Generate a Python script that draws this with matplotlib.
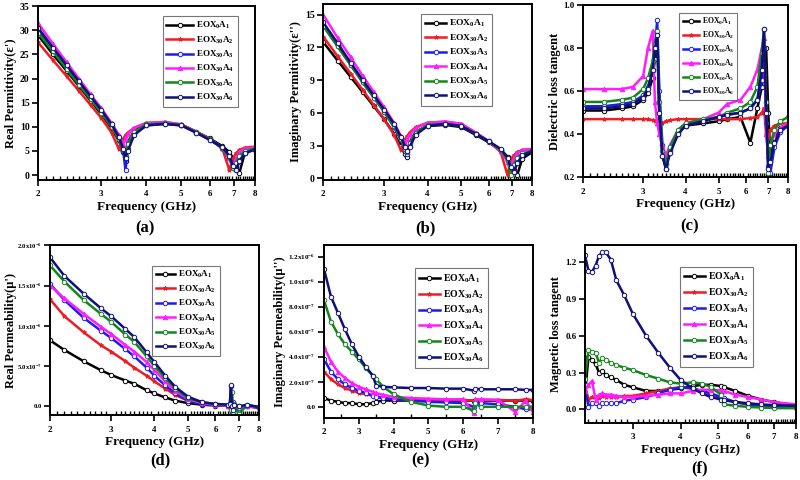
import numpy as np
import matplotlib
matplotlib.use("Agg")
import matplotlib.pyplot as plt
from matplotlib.ticker import NullFormatter

plt.rcParams['font.family'] = ['Liberation Serif', 'DejaVu Serif']
plt.rcParams['font.weight'] = 'bold'
plt.rcParams['mathtext.fontset'] = 'custom'
plt.rcParams['mathtext.rm'] = 'Liberation Serif:bold'
plt.rcParams['mathtext.bf'] = 'Liberation Serif:bold'
plt.rcParams['mathtext.default'] = 'bf'

labels = ["EOX$_0$A$_1$", "EOX$_{30}$A$_2$", "EOX$_{30}$A$_3$",
          "EOX$_{30}$A$_4$", "EOX$_{30}$A$_5$", "EOX$_{30}$A$_6$"]
colors = ['#000000', '#ee1c24', '#1c1cf0', '#ff1cff', '#12861a', '#10107a']
markers = ['o', '*', 'o', '^', 'o', 'o']

# ---- (a) real permittivity / (b) imaginary permittivity ----
freq_ab = [2.0, 2.2, 2.4, 2.6, 2.8, 3.0, 3.2, 3.35, 3.45, 3.5, 3.55, 3.7, 4.0,
           4.5, 5.0, 5.5, 6.0, 6.5, 6.8, 6.95, 7.1, 7.25, 7.5, 8.0]
eps_re_1 = [29.0, 25.0, 21.6, 18.4, 15.4, 12.6, 9.7, 7.2, 4.8, 3.0, 6.8, 9.2, 10.5, 10.7, 10.4, 9.0, 7.6, 6.0, 4.8, 3.6, 1.8, 0.5, 4.5, 5.5]
eps_re_2 = [27.5, 23.8, 20.5, 17.4, 14.5, 11.8, 8.8, 5.5, 7.5, 8.3, 8.8, 9.8, 10.8, 11.0, 10.5, 9.0, 7.5, 5.5, 1.0, 3.5, 4.5, 5.2, 5.7, 5.9]
eps_re_3 = [30.0, 26.0, 22.4, 19.0, 16.0, 13.2, 10.2, 7.8, 5.0, 1.0, 5.5, 8.5, 10.3, 10.6, 10.3, 8.8, 7.3, 5.6, 3.5, 1.5, 1.0, 3.0, 4.5, 5.5]
eps_re_4 = [31.5, 27.2, 23.4, 19.9, 16.7, 13.8, 10.8, 8.4, 6.5, 7.5, 8.5, 9.8, 10.8, 11.0, 10.5, 9.0, 7.5, 5.7, 3.5, 2.0, 3.5, 4.8, 5.5, 5.8]
eps_re_5 = [29.5, 25.6, 22.0, 18.7, 15.7, 12.9, 10.0, 7.5, 5.2, 4.0, 6.5, 9.0, 10.5, 10.7, 10.4, 8.9, 7.4, 5.7, 3.8, 1.5, 2.5, 4.0, 5.0, 5.5]
eps_re_6 = [30.5, 26.4, 22.8, 19.4, 16.3, 13.5, 10.5, 8.0, 5.5, 3.5, 5.0, 8.3, 10.3, 10.6, 10.3, 8.8, 7.3, 5.8, 4.0, 2.0, 1.0, 3.0, 4.5, 5.3]

eps_im_1 = [12.5, 10.8, 9.3, 7.9, 6.6, 5.4, 4.1, 3.0, 2.2, 2.0, 3.3, 4.3, 4.8, 4.9, 4.7, 4.0, 3.3, 2.6, 2.0, 1.5, 0.8, 0.3, 1.8, 2.4]
eps_im_2 = [13.0, 11.2, 9.6, 8.1, 6.7, 5.4, 4.0, 2.6, 3.6, 3.9, 4.2, 4.7, 5.1, 5.2, 5.0, 4.2, 3.4, 2.4, 0.3, 1.8, 2.1, 2.4, 2.6, 2.7]
eps_im_3 = [14.0, 12.1, 10.4, 8.8, 7.4, 6.1, 4.7, 3.5, 2.5, 2.2, 3.0, 4.1, 4.9, 5.0, 4.8, 4.1, 3.4, 2.6, 1.6, 0.8, 0.6, 1.5, 2.1, 2.5]
eps_im_4 = [15.0, 12.9, 11.1, 9.4, 7.9, 6.5, 5.1, 3.9, 3.2, 3.6, 4.0, 4.6, 5.1, 5.2, 5.0, 4.2, 3.4, 2.5, 1.5, 1.2, 1.8, 2.3, 2.6, 2.7]
eps_im_5 = [14.0, 12.1, 10.4, 8.8, 7.4, 6.1, 4.8, 3.6, 2.7, 2.4, 3.2, 4.2, 4.9, 5.0, 4.8, 4.1, 3.4, 2.6, 1.7, 0.3, 1.2, 1.9, 2.3, 2.5]
eps_im_6 = [14.3, 12.4, 10.6, 9.0, 7.6, 6.3, 5.0, 3.8, 2.9, 2.5, 2.9, 4.0, 4.8, 5.0, 4.8, 4.1, 3.4, 2.7, 1.9, 1.0, 0.6, 1.4, 2.1, 2.5]

# ---- (c) dielectric loss tangent ----
freq_c = [2.0, 2.3, 2.6, 2.8, 3.0, 3.1, 3.2, 3.25, 3.3, 3.35, 3.42, 3.5, 3.6, 3.8, 4.0,
          4.5, 5.0, 5.3, 5.8, 6.2, 6.5, 6.7, 6.8, 6.9, 7.0, 7.1, 7.3, 7.6, 8.0]
tand_1 = [0.51, 0.51, 0.52, 0.53, 0.56, 0.59, 0.66, 0.75, 0.86, 0.45, 0.30, 0.24, 0.33, 0.41, 0.44, 0.45, 0.46, 0.47, 0.48, 0.36, 0.52, 0.62, 0.72, 0.80, 0.50, 0.30, 0.38, 0.43, 0.45]
tand_2 = [0.47, 0.47, 0.47, 0.47, 0.47, 0.47, 0.465, 0.46, 0.46, 0.455, 0.45, 0.46, 0.465, 0.47, 0.47, 0.47, 0.47, 0.47, 0.47, 0.475, 0.48, 0.50, 0.52, 0.40, 0.38, 0.42, 0.44, 0.45, 0.45]
tand_3 = [0.53, 0.53, 0.54, 0.55, 0.58, 0.62, 0.70, 0.80, 0.93, 0.60, 0.35, 0.26, 0.32, 0.40, 0.44, 0.46, 0.48, 0.49, 0.50, 0.52, 0.56, 0.65, 0.80, 0.45, 0.25, 0.22, 0.34, 0.41, 0.44]
tand_4 = [0.61, 0.61, 0.61, 0.62, 0.67, 0.80, 0.88, 0.55, 0.45, 0.40, 0.35, 0.30, 0.35, 0.42, 0.45, 0.47, 0.50, 0.54, 0.56, 0.62, 0.70, 0.80, 0.85, 0.40, 0.30, 0.35, 0.40, 0.43, 0.45]
tand_5 = [0.55, 0.55, 0.56, 0.57, 0.61, 0.66, 0.74, 0.82, 0.88, 0.55, 0.32, 0.26, 0.34, 0.42, 0.45, 0.47, 0.48, 0.50, 0.52, 0.55, 0.62, 0.78, 0.89, 0.55, 0.22, 0.35, 0.42, 0.46, 0.48]
tand_6 = [0.52, 0.52, 0.53, 0.54, 0.57, 0.61, 0.70, 0.80, 0.86, 0.50, 0.30, 0.24, 0.31, 0.40, 0.44, 0.46, 0.48, 0.49, 0.50, 0.52, 0.56, 0.70, 0.89, 0.50, 0.24, 0.27, 0.36, 0.42, 0.44]

# ---- (d) real permeability (x1e-6) ----
freq_d = [2.0, 2.2, 2.5, 2.8, 3.0, 3.3, 3.5, 3.8, 4.0, 4.3, 4.6, 5.0, 5.5, 6.0,
          6.5, 6.6, 6.65, 6.7, 6.75, 6.8, 7.0, 7.4, 8.0]
mu_re_1 = [0.82, 0.70, 0.56, 0.45, 0.39, 0.32, 0.28, 0.20, 0.16, 0.11, 0.07, 0.04, 0.02, 0.01, 0.01, 0.01, 0.0, 0.01, 0.0, 0.0, 0.0, 0.0, -0.01]
mu_re_2 = [1.33, 1.12, 0.92, 0.76, 0.68, 0.56, 0.48, 0.38, 0.31, 0.22, 0.14, 0.07, 0.03, 0.02, 0.01, 0.01, 0.02, 0.0, 0.01, 0.0, 0.0, 0.0, -0.01]
mu_re_3 = [1.52, 1.32, 1.10, 0.94, 0.85, 0.71, 0.62, 0.48, 0.38, 0.26, 0.16, 0.07, 0.03, 0.02, 0.01, 0.02, 0.25, -0.10, 0.05, 0.0, -0.02, 0.0, -0.02]
mu_re_4 = [1.50, 1.34, 1.15, 0.99, 0.90, 0.76, 0.68, 0.55, 0.45, 0.31, 0.19, 0.09, 0.04, 0.02, 0.01, 0.01, 0.02, 0.0, 0.01, 0.0, 0.0, 0.0, -0.01]
mu_re_5 = [1.75, 1.55, 1.32, 1.15, 1.05, 0.89, 0.80, 0.62, 0.50, 0.35, 0.22, 0.10, 0.05, 0.03, 0.02, 0.02, -0.05, 0.18, -0.10, 0.03, -0.10, 0.02, -0.01]
mu_re_6 = [1.85, 1.62, 1.40, 1.22, 1.12, 0.96, 0.86, 0.67, 0.55, 0.38, 0.24, 0.12, 0.05, 0.03, 0.02, 0.03, 0.26, 0.0, -0.05, 0.02, 0.0, 0.02, -0.01]

# ---- (e) imaginary permeability (x1e-6) ----
freq_e = [2.0, 2.2, 2.4, 2.6, 2.8, 3.0, 3.2, 3.4, 3.5, 3.7, 4.0, 4.5, 5.0, 5.5,
          6.0, 6.3, 6.35, 6.5, 7.0, 7.5, 7.8, 8.0]
mu_im_1 = [0.07, 0.05, 0.04, 0.03, 0.03, 0.02, 0.02, 0.03, 0.04, 0.05, 0.05, 0.05, 0.05, 0.05, 0.05, 0.05, 0.05, 0.05, 0.05, 0.05, 0.05, 0.05]
mu_im_2 = [0.28, 0.22, 0.18, 0.15, 0.13, 0.11, 0.10, 0.09, 0.08, 0.07, 0.06, 0.06, 0.055, 0.055, 0.055, 0.05, 0.05, 0.055, 0.055, 0.05, 0.06, 0.055]
mu_im_3 = [0.38, 0.28, 0.22, 0.18, 0.15, 0.13, 0.11, 0.09, 0.08, 0.07, 0.06, 0.05, 0.04, 0.035, 0.03, 0.0, 0.03, 0.03, 0.02, 0.0, -0.02, -0.02]
mu_im_4 = [0.48, 0.36, 0.28, 0.23, 0.19, 0.16, 0.14, 0.12, 0.11, 0.095, 0.08, 0.07, 0.065, 0.06, 0.06, -0.05, 0.06, 0.06, 0.055, -0.04, 0.05, -0.04]
mu_im_5 = [0.85, 0.68, 0.58, 0.50, 0.44, 0.38, 0.31, 0.25, 0.22, 0.16, 0.10, 0.04, 0.01, 0.0, 0.0, -0.03, 0.03, 0.0, 0.0, 0.0, 0.0, 0.0]
mu_im_6 = [1.10, 0.88, 0.75, 0.62, 0.50, 0.40, 0.32, 0.25, 0.17, 0.16, 0.155, 0.15, 0.15, 0.145, 0.145, 0.13, 0.145, 0.14, 0.14, 0.14, 0.135, 0.135]

# ---- (f) magnetic loss tangent ----
freq_f = [2.25, 2.3, 2.35, 2.4, 2.45, 2.5, 2.55, 2.63, 2.72, 2.85, 3.0, 3.25, 3.5,
          3.75, 4.0, 4.3, 4.55, 4.8, 5.1, 5.2, 5.55, 6.0, 6.5, 7.0, 8.0]
tanm_1 = [0.10, 0.43, 0.40, 0.37, 0.30, 0.31, 0.28, 0.26, 0.24, 0.20, 0.18, 0.15, 0.15, 0.16, 0.17, 0.19, 0.20, 0.20, 0.19, 0.18, 0.15, 0.11, 0.08, 0.06, 0.03]
tanm_2 = [0.20, 0.08, 0.10, 0.10, 0.09, 0.11, 0.10, 0.10, 0.10, 0.11, 0.11, 0.13, 0.15, 0.17, 0.18, 0.17, 0.15, 0.12, 0.09, 0.08, 0.06, 0.04, 0.03, 0.025, 0.02]
tanm_3 = [0.20, 0.02, 0.05, 0.05, 0.03, 0.05, 0.05, 0.05, 0.05, 0.07, 0.08, 0.10, 0.13, 0.16, 0.18, 0.17, 0.15, 0.13, 0.10, 0.09, 0.06, 0.04, 0.03, 0.025, 0.02]
tanm_4 = [0.15, 0.20, 0.23, 0.08, 0.12, 0.13, 0.12, 0.12, 0.11, 0.10, 0.10, 0.11, 0.12, 0.13, 0.13, 0.15, 0.16, 0.16, 0.155, 0.15, 0.12, 0.10, 0.08, 0.06, 0.04]
tanm_5 = [0.25, 0.48, 0.47, 0.46, 0.38, 0.42, 0.40, 0.38, 0.36, 0.34, 0.32, 0.28, 0.25, 0.22, 0.21, 0.22, 0.21, 0.18, 0.12, 0.04, 0.03, 0.02, 0.015, 0.01, 0.01]
tanm_6 = [1.26, 1.13, 1.12, 1.17, 1.25, 1.28, 1.28, 1.22, 1.05, 0.93, 0.78, 0.60, 0.46, 0.34, 0.24, 0.17, 0.13, 0.10, 0.08, 0.075, 0.06, 0.05, 0.04, 0.035, 0.03]

freq_ticks = [2, 3, 4, 5, 6, 7, 8]

fig = plt.figure(figsize=(8, 4.8), dpi=100)


def panel(rect, x, series, ylabel, ylim, yticks, yticklabels, leg_xy, leg_fs,
          logx=True, xlim=(2, 8), letter='', letter_xy=(0.5, 0.0), ytick_fs=7,
          ylabel_x=None, handlelen=2.2):
    ax = fig.add_axes(rect)
    for i, y in enumerate(series):
        ax.plot(x, y, color=colors[i], lw=1.8, marker=markers[i], ms=3.2,
                mfc='white' if markers[i] == 'o' else colors[i], mec=colors[i],
                mew=0.7, label=labels[i])
    if logx:
        ax.set_xscale('log')
        ax.set_xticks([t for t in freq_ticks if xlim[0] <= t <= xlim[1]])
        ax.set_xticklabels([str(t) for t in freq_ticks if xlim[0] <= t <= xlim[1]])
        ax.set_xticks(np.arange(2.1, 8, 0.1), minor=True)
        ax.xaxis.set_minor_formatter(NullFormatter())
    else:
        ax.set_xticks(freq_ticks)
        ax.set_xticks(np.arange(2.5, 8, 1.0), minor=True)
    ax.set_xlim(*xlim)
    ax.set_ylim(*ylim)
    ax.set_yticks(yticks)
    ax.set_yticklabels(yticklabels)
    ax.tick_params(axis='both', which='major', width=1.2, length=4)
    ax.tick_params(axis='x', which='major', labelsize=6.5)
    ax.tick_params(axis='y', which='major', pad=2, labelsize=ytick_fs)
    ax.tick_params(axis='x', which='minor', direction='in', width=1.0, length=3)
    for s in ax.spines.values():
        s.set_linewidth(1.4)
    ax.set_xlabel('Frequency (GHz)', fontsize=9.5, fontweight='bold', labelpad=2)
    ax.set_ylabel(ylabel, fontsize=9, fontweight='bold', labelpad=2)
    if ylabel_x is not None:
        ax.yaxis.set_label_coords(ylabel_x, 0.5)
    leg = ax.legend(loc='upper left', bbox_to_anchor=leg_xy, fontsize=leg_fs,
                    frameon=True, fancybox=False, edgecolor='#555555',
                    handlelength=handlelen, handletextpad=0.3, labelspacing=0.35,
                    borderpad=0.4, borderaxespad=0)
    leg.get_frame().set_linewidth(0.8)
    fig.text(letter_xy[0], letter_xy[1], letter, ha='center', va='center',
             fontsize=12, fontweight='bold')
    return ax


panel([0.0475, 0.625, 0.271, 0.3625], freq_ab,
      [eps_re_1, eps_re_2, eps_re_3, eps_re_4, eps_re_5, eps_re_6],
      "Real Permittivity(ε')", (-1, 35), [0, 5, 10, 15, 20, 25, 30, 35],
      ['0', '5', '10', '15', '20', '25', '30', '35'], (0.575, 0.94), 6.5,
      letter='(a)', letter_xy=(145 / 800, 1 - 228 / 480), handlelen=3.0)

panel([0.404, 0.625, 0.261, 0.367], freq_ab,
      [eps_im_1, eps_im_2, eps_im_3, eps_im_4, eps_im_5, eps_im_6],
      "Imaginary Permitivity(ε'')", (-0.15, 16), [0, 3, 6, 9, 12, 15],
      ['0', '3', '6', '9', '12', '15'], (0.47, 0.94), 6.8,
      letter='(b)', letter_xy=(425 / 800, 1 - 228 / 480))

panel([0.729, 0.631, 0.256, 0.358], freq_c,
      [tand_1, tand_2, tand_3, tand_4, tand_5, tand_6],
      "Dielectric loss tangent", (0.2, 1.0), [0.2, 0.4, 0.6, 0.8, 1.0],
      ['0.2', '0.4', '0.6', '0.8', '1.0'], (0.47, 0.955), 5.5,
      letter='(c)', letter_xy=(690 / 800, 1 - 226 / 480), ytick_fs=6.5)

panel([0.0625, 0.135, 0.261, 0.354], freq_d,
      [mu_re_1, mu_re_2, mu_re_3, mu_re_4, mu_re_5, mu_re_6],
      "Real Permeability(μ')", (-0.11, 2.0), [0, 0.5, 1.0, 1.5, 2.0],
      ['0.0', '5.0x10$^{-7}$', '1.0x10$^{-6}$', '1.5x10$^{-6}$', '2.0x10$^{-6}$'],
      (0.488, 0.88), 6.5,
      letter='(d)', letter_xy=(160 / 800, 1 - 460 / 480), ytick_fs=4.8,
      ylabel_x=-0.16)

panel([0.405, 0.129, 0.261, 0.360], freq_e,
      [mu_im_1, mu_im_2, mu_im_3, mu_im_4, mu_im_5, mu_im_6],
      "Imaginary Permeability(μ'')", (-0.09, 1.29), [0, 0.2, 0.4, 0.6, 0.8, 1.0, 1.2],
      ['0.0', '2.0x10$^{-7}$', '4.0x10$^{-7}$', '6.0x10$^{-7}$', '8.0x10$^{-7}$',
       '1.0x10$^{-6}$', '1.2x10$^{-6}$'], (0.435, 0.867), 7, logx=False,
      letter='(e)', letter_xy=(420 / 800, 1 - 460 / 480), ytick_fs=5.2)

panel([0.731, 0.119, 0.264, 0.371], freq_f,
      [tanm_1, tanm_2, tanm_3, tanm_4, tanm_5, tanm_6],
      "Magnetic loss tangent", (-0.11, 1.34), [0.0, 0.3, 0.6, 0.9, 1.2],
      ['0.0', '0.3', '0.6', '0.9', '1.2'], (0.45, 0.876), 7, xlim=(2.25, 8),
      letter='(f)', letter_xy=(700 / 800, 1 - 468 / 480), ytick_fs=6.5)

fig.savefig('out.png', dpi=100)
